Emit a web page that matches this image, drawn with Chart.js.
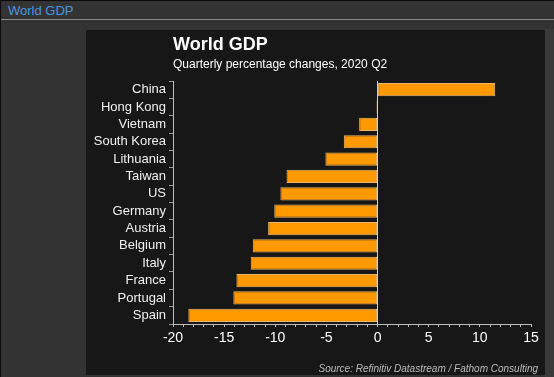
<!DOCTYPE html>
<html>
<head>
<meta charset="utf-8">
<script src="https://cdn.jsdelivr.net/npm/chart.js@4"></script>
<style>
  html, body { margin: 0; padding: 0; }
  body {
    width: 554px; height: 377px; background: #333333; position: relative; overflow: hidden;
    font-family: Arial, "Liberation Sans", sans-serif;
    border-top: 1px solid #0a0a0a; border-left: 1px solid #0a0a0a; box-sizing: border-box;
  }
  #head { position: absolute; left: 7px; top: 2px; color: #4a96e0; font-size: 13px; }
  #rule { position: absolute; left: 0; top: 18px; width: 554px; height: 1px; background: #8a8a8a; }
  #strip { position: absolute; left: 544px; top: 28px; width: 10px; height: 349px; background: #3a3a3a; }
  #panel { position: absolute; left: 85px; top: 29px; width: 459px; height: 345px; background: #171717; }
  #gdpChart { display: block; }
</style>
</head>
<body>
<div id="head">World GDP</div>
<div id="rule"></div>
<div id="strip"></div>
<div id="panel"><canvas id="gdpChart" width="459" height="345"></canvas></div>
<script>
// data
const countries = ['China', 'Hong Kong', 'Vietnam', 'South Korea', 'Lithuania', 'Taiwan', 'US',
  'Germany', 'Austria', 'Belgium', 'Italy', 'France', 'Portugal', 'Spain'];
const changes = [11.5, -0.1, -1.8, -3.3, -5.1, -8.9, -9.5, -10.1, -10.7, -12.2, -12.4, -13.8, -14.1, -18.5];
const chartTitle = 'World GDP';
const chartSubtitle = 'Quarterly percentage changes, 2020 Q2';
const sourceNote = 'Source: Refinitiv Datastream / Fathom Consulting';

// title, subtitle and source drawn relative to the plot area
const textPlugin = {
  id: 'texts',
  afterDraw(chart) {
    const ctx = chart.ctx;
    const left = chart.chartArea.left;
    ctx.save();
    ctx.fillStyle = '#ffffff';
    ctx.textAlign = 'left';
    ctx.textBaseline = 'alphabetic';
    ctx.font = 'bold 18px Arial';
    ctx.fillText(chartTitle, left, 20);
    ctx.font = '12px Arial';
    ctx.fillText(chartSubtitle, left, 38);
    ctx.font = 'italic 10px Arial';
    ctx.fillStyle = '#bdbdbd';
    ctx.textAlign = 'right';
    ctx.fillText(sourceNote, 452, 342);
    ctx.restore();
  }
};

const ctx = document.getElementById('gdpChart').getContext('2d');
new Chart(ctx, {
  type: 'bar',
  data: {
    labels: countries,
    datasets: [{
      data: changes,
      backgroundColor: '#ff9900',
      borderColor: '#f0b56a',
      borderWidth: 1,
      borderSkipped: false,
      barPercentage: 0.76,
      categoryPercentage: 1
    }]
  },
  options: {
    indexAxis: 'y',
    responsive: false,
    animation: false,
    devicePixelRatio: 1,
    layout: { padding: { top: 51, right: 14, bottom: 0, left: 0 } },
    plugins: {
      legend: { display: false },
      tooltip: { enabled: false }
    },
    scales: {
      x: {
        min: -20,
        max: 15,
        afterFit: (axis) => { axis.height = 51; },
        border: { color: '#bdbdbd', width: 1 },
        grid: {
          drawOnChartArea: true,
          color: (c) => (c.tick && c.tick.value === 0 ? '#d0d0d0' : 'rgba(0,0,0,0)'),
          tickColor: '#bdbdbd',
          tickLength: 3
        },
        ticks: {
          stepSize: 1,
          autoSkip: false,
          maxRotation: 0,
          padding: 3,
          color: '#ffffff',
          font: { family: 'Arial', size: 14 },
          callback: (v) => (v % 5 === 0 ? v : '')
        }
      },
      y: {
        afterFit: (axis) => { axis.width = 87; },
        border: { color: '#bdbdbd', width: 1 },
        grid: { drawOnChartArea: false, tickColor: '#9a9a9a', tickLength: 4 },
        ticks: {
          autoSkip: false,
          padding: 3,
          color: '#f0f0f0',
          font: { family: 'Arial', size: 13 }
        }
      }
    }
  },
  plugins: [textPlugin]
});
</script>
</body>
</html>
